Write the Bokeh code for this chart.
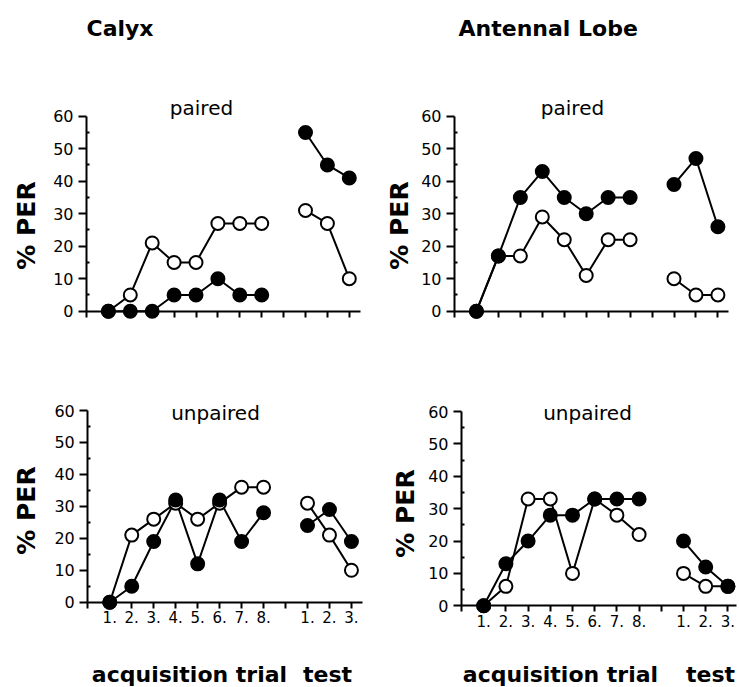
import math
from bokeh.plotting import figure
from bokeh.models import Range1d, LinearAxis, FixedTicker, Label
from bokeh.layouts import column, row
from bokeh.embed import file_html
from bokeh.resources import INLINE

# ---------------- data ----------------
acq_labels = ["1.", "2.", "3.", "4.", "5.", "6.", "7.", "8."]
test_labels = ["1.", "2.", "3."]
y_ticks = [0, 10, 20, 30, 40, 50, 60]
y_minor = [5, 15, 25, 35, 45, 55]

column_titles = ["Calyx", "Antennal Lobe"]
row_titles = ["paired", "unpaired"]
y_title = "% PER"
x_titles = ["acquisition trial", "test"]

calyx_paired_filled_acq = [0, 0, 0, 5, 5, 10, 5, 5]
calyx_paired_filled_test = [55, 45, 41]
calyx_paired_open_acq = [0, 5, 21, 15, 15, 27, 27, 27]
calyx_paired_open_test = [31, 27, 10]

al_paired_filled_acq = [0, 17, 35, 43, 35, 30, 35, 35]
al_paired_filled_test = [39, 47, 26]
al_paired_open_acq = [0, 17, 17, 29, 22, 11, 22, 22]
al_paired_open_test = [10, 5, 5]

calyx_unpaired_filled_acq = [0, 5, 19, 32, 12, 32, 19, 28]
calyx_unpaired_filled_test = [24, 29, 19]
calyx_unpaired_open_acq = [0, 21, 26, 31, 26, 31, 36, 36]
calyx_unpaired_open_test = [31, 21, 10]

al_unpaired_filled_acq = [0, 13, 20, 28, 28, 33, 33, 33]
al_unpaired_filled_test = [20, 12, 6]
al_unpaired_open_acq = [0, 6, 33, 33, 10, 33, 28, 22]
al_unpaired_open_test = [10, 6, 6]

# ---------------- positions ----------------
acq_x = [i + 1 for i in range(len(acq_labels))]
test_x = [len(acq_labels) + 2 + i for i in range(len(test_labels))]
all_ticks = list(range(0, test_x[-1] + 1))
NAN = float("nan")

FONT = "DejaVu Sans"


def make_panel(spec, filled_acq, filled_test, open_acq, open_test, show_labels, texts):
    # spec: figure box on the page, axis origin on the page, px per unit
    fx, fy, w, h = spec["box"]
    ax_px, ax_py = spec["origin"]
    sx, sy = spec["scale"]
    xr = Range1d((fx - ax_px) / sx, (fx + w - ax_px) / sx)
    yr = Range1d((ax_py - (fy + h)) / sy, (ax_py - fy) / sy)

    p = figure(width=w, height=h, x_range=xr, y_range=yr,
               output_backend="svg", toolbar_location=None,
               x_axis_location=None, y_axis_location=None,
               min_border=0, min_border_left=0, min_border_right=0,
               min_border_top=0, min_border_bottom=0)
    p.outline_line_color = None
    p.xgrid.visible = False
    p.ygrid.visible = False
    p.background_fill_color = "white"
    p.border_fill_color = "white"

    yax = LinearAxis(ticker=FixedTicker(ticks=y_ticks, minor_ticks=y_minor))
    yax.fixed_location = 0
    yax.bounds = (0, 60)
    yax.axis_line_width = 2
    yax.major_tick_line_width = 2
    yax.minor_tick_line_width = 2
    yax.major_tick_out = 8
    yax.major_tick_in = 0
    yax.minor_tick_out = 0
    yax.minor_tick_in = 3
    yax.major_label_standoff = 5
    yax.major_label_text_font = FONT
    yax.major_label_text_font_size = "16px"
    yax.major_label_text_color = "black"
    p.add_layout(yax, "left")

    overrides = {}
    for t in all_ticks:
        overrides[t] = ""
    for xv, lab in zip(acq_x, acq_labels):
        overrides[xv] = lab
    for xv, lab in zip(test_x, test_labels):
        overrides[xv] = lab
    xax = LinearAxis(ticker=FixedTicker(ticks=all_ticks))
    xax.fixed_location = 0
    xax.bounds = (0, spec["xend"])
    xax.axis_line_width = 2
    xax.major_tick_line_width = 2
    xax.major_tick_out = 6
    xax.major_tick_in = 0
    xax.minor_tick_line_color = None
    xax.major_label_overrides = overrides
    xax.major_label_standoff = 3
    xax.major_label_text_font = FONT
    xax.major_label_text_font_size = "15px"
    xax.major_label_text_color = "black" if show_labels else None
    p.add_layout(xax, "below")

    ox = acq_x + [NAN] + test_x
    oy = open_acq + [NAN] + open_test
    fyv = filled_acq + [NAN] + filled_test
    p.line(ox, oy, line_color="black", line_width=2)
    p.line(ox, fyv, line_color="black", line_width=2)
    p.scatter(acq_x + test_x, open_acq + open_test, marker="circle", size=13,
              fill_color="white", line_color="black", line_width=2)
    p.scatter(acq_x + test_x, filled_acq + filled_test, marker="circle", size=13,
              fill_color="black", line_color="black", line_width=2)

    for (txt, px, py, size, bold, align, angle) in texts:
        dx = (px - ax_px) / sx
        dy = (ax_py - py) / sy
        lab = Label(x=dx, y=dy, text=txt, text_font=FONT, text_font_size=size,
                    text_font_style="bold" if bold else "normal",
                    text_align=align, text_baseline="middle" if angle else "alphabetic",
                    angle=angle, text_color="black")
        p.add_layout(lab)
    return p


specs = {
    "TL": dict(box=(0, 0, 370, 380), origin=(86, 310.7), scale=(21.9, 3.25), xend=12.5),
    "TR": dict(box=(370, 0, 368, 380), origin=(454, 310.7), scale=(21.95, 3.25), xend=12.5),
    "BL": dict(box=(0, 380, 370, 306), origin=(87.3, 601.7), scale=(21.97, 3.195), xend=12.5),
    "BR": dict(box=(370, 380, 368, 306), origin=(461, 605.3), scale=(22.2, 3.238), xend=12.4),
}

R = math.pi / 2
tl = make_panel(specs["TL"], calyx_paired_filled_acq, calyx_paired_filled_test,
                calyx_paired_open_acq, calyx_paired_open_test, False,
                [(column_titles[0], 86, 28, "22px", True, "left", 0),
                 (row_titles[0], 201, 107, "20px", False, "center", 0),
                 (y_title, 26, 225, "25px", True, "center", R)])
tr = make_panel(specs["TR"], al_paired_filled_acq, al_paired_filled_test,
                al_paired_open_acq, al_paired_open_test, False,
                [(column_titles[1], 458, 28, "22px", True, "left", 0),
                 (row_titles[0], 572, 107, "20px", False, "center", 0),
                 (y_title, 399, 225, "25px", True, "center", R)])
bl = make_panel(specs["BL"], calyx_unpaired_filled_acq, calyx_unpaired_filled_test,
                calyx_unpaired_open_acq, calyx_unpaired_open_test, True,
                [(row_titles[1], 215, 412, "20px", False, "center", 0),
                 (y_title, 26, 510, "25px", True, "center", R),
                 (x_titles[0], 189, 674, "22px", True, "center", 0),
                 (x_titles[1], 327, 674, "22px", True, "center", 0)])
br = make_panel(specs["BR"], al_unpaired_filled_acq, al_unpaired_filled_test,
                al_unpaired_open_acq, al_unpaired_open_test, True,
                [(row_titles[1], 587, 412, "20px", False, "center", 0),
                 (y_title, 405, 513, "25px", True, "center", R),
                 (x_titles[0], 560, 674, "22px", True, "center", 0),
                 (x_titles[1], 710, 674, "22px", True, "center", 0)])

layout = column(row(tl, tr), row(bl, br))
open("out.html", "w").write(file_html(layout, INLINE))
